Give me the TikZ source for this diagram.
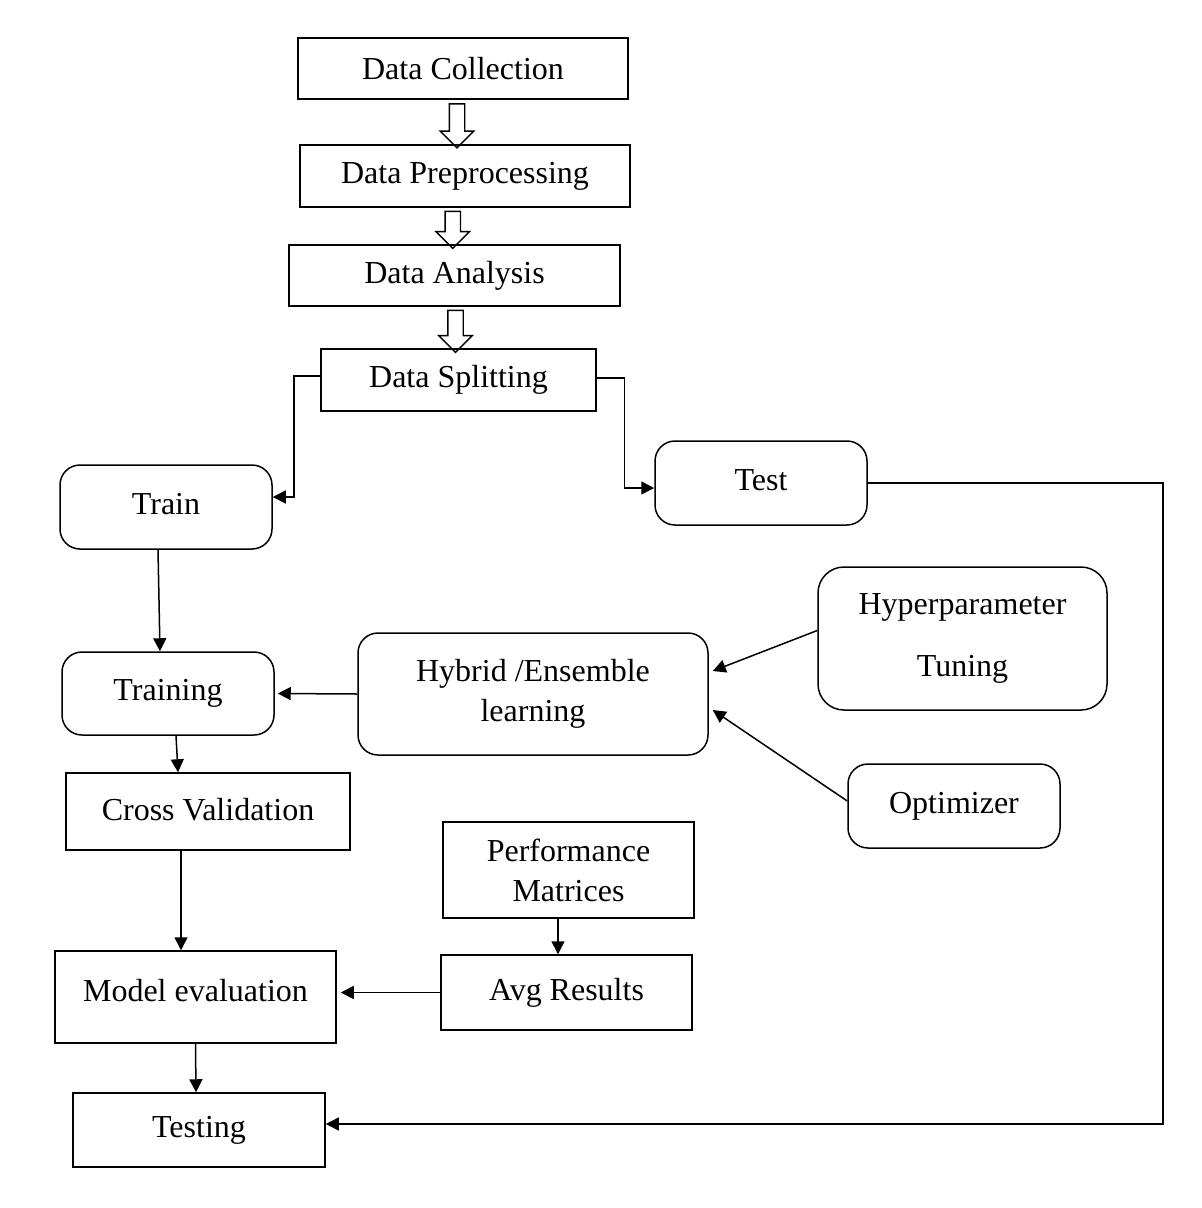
\documentclass[tikz,border=0pt]{standalone}
\usepackage{fontspec}
\setmainfont{Liberation Serif}
\usetikzlibrary{arrows.meta,shapes.arrows,calc}

\begin{document}
\begin{tikzpicture}[x=1pt,y=-1pt,
	box/.style={draw,line width=1.5pt,inner sep=0pt,align=center,font=\fontsize{32}{40}\selectfont},
	rbox/.style={box,rounded corners=20pt},
	hollow/.style={draw,line width=1.4pt,single arrow,shape border rotate=270,
		single arrow head extend=9pt,inner sep=7pt,minimum width=0pt},
	conn/.style={line width=1.5pt,-{Triangle[length=13pt,width=13pt]}}]
	\useasboundingbox (0,0) rectangle (1202,1208);
	% pipeline
	\node[box,minimum width=330pt,minimum height=61pt] (coll) at (463,68.5) {Data Collection};
	\node[box,minimum width=330pt,minimum height=62pt] (prep) at (465,176) {Data Preprocessing};
	\node[box,minimum width=331pt,minimum height=61pt] (anal) at (454.5,275.5) {Data Analysis};
	\node[box,minimum width=275pt,minimum height=62pt] (split) at (458.5,380) {Data Splitting};
	\node[hollow,minimum height=44pt] at ($(coll.south)!.5!(prep.north)+(-7,0)$) {};
	\node[hollow,minimum height=37pt] at ($(prep.south)!.5!(anal.north)+(-7,0)$) {};
	\node[hollow,minimum height=42pt] at ($(anal.south)!.5!(split.north)+(-1,0)$) {};
	% left branch
	\node[rbox,minimum width=212pt,minimum height=84pt] (train) at (166,507) {\raisebox{6pt}{Train}};
	\node[rbox,minimum width=212pt,minimum height=84pt] (test) at (761,483) {\raisebox{6pt}{Test}};
	\node[rbox,minimum width=212pt,minimum height=83pt] (training) at (168,693.5) {\raisebox{6pt}{Training}};
	\node[rbox,minimum width=350pt,minimum height=122pt] (hybrid) at (533,694) {Hybrid /Ensemble\\learning};
	\node[rbox,rounded corners=26pt,minimum width=289pt,minimum height=143pt] (hyper) at (962.5,638.5) {Hyperparameter\\[22pt]Tuning};
	\node[rbox,minimum width=212pt,minimum height=84pt] (optim) at (954,806) {\raisebox{6pt}{Optimizer}};
	\node[box,minimum width=284pt,minimum height=77pt] (cross) at (208,811.5) {\raisebox{4pt}{Cross Validation}};
	\node[box,minimum width=251pt,minimum height=96pt] (perf) at (568.5,870) {Performance\\Matrices};
	\node[box,minimum width=281pt,minimum height=92pt] (model) at (195.5,997) {\raisebox{13pt}{Model evaluation}};
	\node[box,minimum width=251pt,minimum height=75pt] (avg) at (566.5,992.5) {\raisebox{4pt}{Avg Results}};
	\node[box,minimum width=252pt,minimum height=74pt] (testing) at (199,1130) {\raisebox{6pt}{Testing}};
	% connectors
	\draw[conn] ([yshift=4pt]split.west) -| ([xshift=21pt,yshift=10pt]train.east) -- ([yshift=10pt]train.east);
	\draw[conn] ([yshift=2pt]split.east) -| ([xshift=-30pt,yshift=-5pt]test.west) -- ([yshift=-5pt]test.west);
	\draw[conn] (test.east) -- ++(295,0) |- ([yshift=6pt]testing.east);
	\draw[conn] ([xshift=-8pt]train.south) -- ([xshift=-8pt]training.north);
	\draw[conn] (hybrid.west) -- ([xshift=3pt]training.east);
	\draw[conn] ([xshift=8pt]training.south) -- ([xshift=-30pt]cross.north);
	\draw[conn] ([yshift=8pt]hyper.west) -- ([xshift=4pt,yshift=23pt]hybrid.east);
	\draw[conn] ([yshift=5pt]optim.west) -- ([xshift=4pt,yshift=-16pt]hybrid.east);
	\draw[conn] ([xshift=-27pt]cross.south) -- ([xshift=-14.5pt]model.north);
	\draw[conn] ([xshift=-10.5pt]perf.south) -- ([xshift=-8.5pt]avg.north);
	\draw[conn] (avg.west) -- ([xshift=4pt,yshift=4.5pt]model.east);
	\draw[conn] (model.south) -- ([xshift=-3pt]testing.north);
\end{tikzpicture}
\end{document}
